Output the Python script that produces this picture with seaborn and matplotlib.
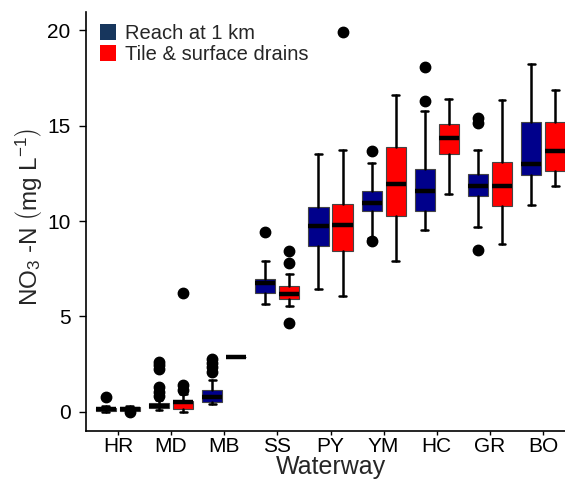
import matplotlib
matplotlib.use('Agg')
import matplotlib.pyplot as plt
import seaborn as sns
import numpy as np
from matplotlib.patches import Patch

sns.set_style("ticks")
plt.rcParams['font.family'] = ['Liberation Sans', 'DejaVu Sans']
plt.rcParams['mathtext.fontset'] = 'custom'
plt.rcParams['mathtext.rm'] = 'Liberation Sans'
plt.rcParams['mathtext.it'] = 'Liberation Sans:italic'

# Datos (mg/L)
waterways = ['HR', 'MD', 'MB', 'SS', 'PY', 'YM', 'HC', 'GR', 'BO']

reach_q1 = [0.05, 0.18, 0.52, 6.24, 8.70, 10.54, 10.52, 11.32, 12.39]
reach_med = [0.14, 0.33, 0.79, 6.73, 9.73, 10.92, 11.55, 11.81, 12.97]
reach_q3 = [0.23, 0.45, 1.14, 6.94, 10.74, 11.57, 12.70, 12.46, 15.17]
reach_lo = [0.02, 0.10, 0.44, 5.64, 6.45, 9.10, 9.52, 9.70, 10.83]
reach_hi = [0.30, 0.60, 1.66, 7.91, 13.50, 13.05, 15.76, 13.73, 18.22]
reach_out = [[0.79], [2.60, 2.45, 2.25, 1.30, 1.05, 0.85], [2.75, 2.55, 2.35, 2.10],
             [9.42], [], [13.66, 8.96], [18.05, 16.28], [15.41, 15.12, 8.47], []]

tile_q1 = [0.05, 0.17, 2.90, 5.92, 8.41, 10.27, 13.49, 10.80, 12.63]
tile_med = [0.15, 0.50, 2.90, 6.20, 9.77, 11.92, 14.33, 11.85, 13.66]
tile_q3 = [0.26, 0.58, 2.90, 6.59, 10.89, 13.89, 15.06, 13.07, 15.17]
tile_lo = [0.02, 0.00, 2.90, 5.54, 6.06, 7.92, 11.41, 8.79, 11.83]
tile_hi = [0.30, 0.95, 2.90, 7.22, 13.73, 16.62, 16.39, 16.34, 16.86]
tile_out = [[0.00], [6.25, 1.40, 1.14], [], [8.41, 7.78, 4.67], [19.92], [], [], [], []]

series_labels = ['Reach at 1 km', 'Tile & surface drains']
box_colors = ['#00008B', '#FF0000']
legend_colors = ['#17365D', '#FF0000']


def make_stats(q1, med, q3, lo, hi, out):
    return [dict(q1=a, med=b, q3=c, whislo=d, whishi=e, fliers=f)
            for a, b, c, d, e, f in zip(q1, med, q3, lo, hi, out)]


fig = plt.figure(figsize=(5.65, 4.83), dpi=100)
ax = fig.add_axes([86 / 565, 52 / 483, 489 / 565, 419 / 483])

x = np.arange(len(waterways))
offset = 0.226
width = 0.38

groups = [make_stats(reach_q1, reach_med, reach_q3, reach_lo, reach_hi, reach_out),
          make_stats(tile_q1, tile_med, tile_q3, tile_lo, tile_hi, tile_out)]

for k, (stats, col) in enumerate(zip(groups, box_colors)):
    pos = x - offset if k == 0 else x + offset
    ax.bxp(stats, positions=pos, widths=width, capwidths=0.13, patch_artist=True,
           manage_ticks=False,
           boxprops=dict(facecolor=col, edgecolor='#444444', linewidth=0.8),
           medianprops=dict(color='black', linewidth=3.2, solid_capstyle='butt'),
           whiskerprops=dict(color='black', linewidth=1.8),
           capprops=dict(color='black', linewidth=1.8),
           flierprops=dict(marker='o', markerfacecolor='black', markeredgecolor='black',
                           markersize=7.5))

ax.set_xlim(-0.6, 8.6)
ax.set_ylim(-1.0, 20.95)
ax.set_xticks(x)
ax.set_xticklabels(waterways)
ax.set_yticks([0, 5, 10, 15, 20])
ax.tick_params(axis='both', labelsize=15, colors='black', width=1)
ax.tick_params(axis='x', length=3, pad=1.5)
ax.tick_params(axis='y', length=5, pad=6)
ax.set_xlabel('Waterway', fontsize=18, labelpad=-1)
ax.set_ylabel(r'NO$_3$ -N $\left(\mathrm{mg\ L^{-1}}\right)$', fontsize=17.5)
ax.yaxis.set_label_coords(-0.085, 0.51)

sns.despine(ax=ax)
for side in ['left', 'bottom']:
    ax.spines[side].set_color('black')
    ax.spines[side].set_linewidth(1.2)

handles = [Patch(facecolor=c, edgecolor='none') for c in legend_colors]
ax.legend(handles, series_labels, loc='upper left', bbox_to_anchor=(0.012, 0.99),
          frameon=False, fontsize=14.5, handlelength=0.8, handleheight=0.85,
          handletextpad=0.45, labelspacing=0.1, borderaxespad=0)

plt.savefig('out.png', dpi=100)
